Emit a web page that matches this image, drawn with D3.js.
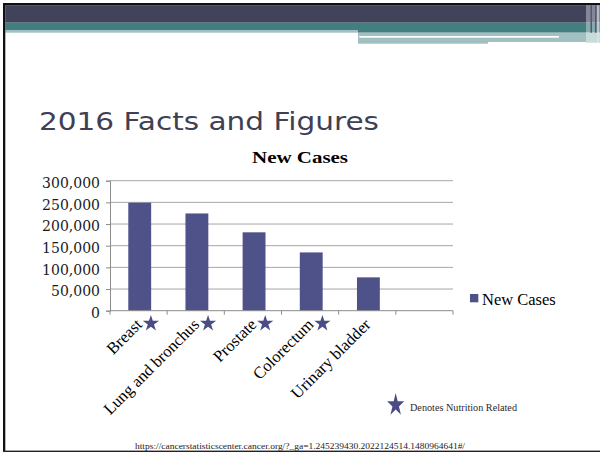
<!DOCTYPE html>
<html>
<head>
<meta charset="utf-8">
<script src="https://cdn.jsdelivr.net/npm/d3@7"></script>
<style>
  body { margin: 0; background: #fff; }
  svg { display: block; }
</style>
</head>
<body>
<svg id="viz" width="600" height="452"></svg>
<script>
const svg = d3.select("#viz");

// data
const categories = ["Breast", "Lung and bronchus", "Prostate", "Colorectum", "Urinary bladder", ""];
const newCases = [249260, 224390, 180890, 134490, 76960, null];
const nutritionRelated = [true, true, true, true, false, false];
const yTicks = [0, 50000, 100000, 150000, 200000, 250000, 300000];
const seriesName = "New Cases";

const barColor = "#4f5189";
const starColor = "#4b4c86";

// slide background
svg.append("rect").attr("width", 600).attr("height", 452).attr("fill", "#fff");

// header bands
const header = svg.append("g").attr("class", "header");
header.append("rect").attr("x", 3).attr("y", 3).attr("width", 597).attr("height", 2.5).attr("fill", "#111");
header.append("rect").attr("x", 5.3).attr("y", 5.3).attr("width", 581).attr("height", 17.4).attr("fill", "#41435a");
header.append("rect").attr("x", 5.3).attr("y", 22.7).attr("width", 353).attr("height", 7.3).attr("fill", "#437e81");
header.append("rect").attr("x", 5.3).attr("y", 30).attr("width", 353).attr("height", 2.7).attr("fill", "#a1c0c1");
header.append("rect").attr("x", 358).attr("y", 22.7).attr("width", 228).attr("height", 10).attr("fill", "#437e81");
header.append("rect").attr("x", 358).attr("y", 32.7).attr("width", 228).attr("height", 9.3).attr("fill", "#a1c0c1");
header.append("rect").attr("x", 358).attr("y", 42).attr("width", 130).attr("height", 1.7).attr("fill", "#a1c0c1");
header.append("rect").attr("x", 359.3).attr("y", 36).attr("width", 199.7).attr("height", 1.7).attr("fill", "#fff");
// right end stripes
header.append("rect").attr("x", 586).attr("y", 5.3).attr("width", 14).attr("height", 17.4).attr("fill", "#85869a");
header.append("rect").attr("x", 586).attr("y", 22.7).attr("width", 14).attr("height", 10).attr("fill", "#86abad");
header.append("rect").attr("x", 586).attr("y", 32.7).attr("width", 14).attr("height", 10).attr("fill", "#c8dbdb");
[590.5, 595].forEach(x => {
  header.append("rect").attr("x", x).attr("y", 5.3).attr("width", 1.5).attr("height", 27.4).attr("fill", "#56586d");
});
header.append("rect").attr("x", 597.5).attr("y", 5.3).attr("width", 1).attr("height", 37).attr("fill", "#e6eded");

// slide title
svg.append("text")
  .attr("x", 39)
  .attr("y", 130)
  .attr("textLength", 340)
  .attr("lengthAdjust", "spacingAndGlyphs")
  .style("font-family", "'DejaVu Sans', sans-serif")
  .style("font-size", "25px")
  .attr("fill", "#3f4053")
  .text("2016 Facts and Figures");

// chart title
svg.append("text")
  .attr("x", 300)
  .attr("y", 163.3)
  .attr("text-anchor", "middle")
  .attr("textLength", 96)
  .attr("lengthAdjust", "spacingAndGlyphs")
  .style("font-family", "'Liberation Serif', serif")
  .style("font-weight", "bold")
  .style("font-size", "17px")
  .attr("fill", "#000")
  .text(seriesName);

// scales
const x = d3.scaleBand()
  .domain(categories)
  .range([110, 453])
  .padding(0);

const y = d3.scaleLinear()
  .domain([0, 300000])
  .range([310.7, 180.7]);

const bw = x.bandwidth();

// gridlines
svg.append("g")
  .attr("class", "grid")
  .selectAll("line")
  .data(yTicks.filter(d => d > 0))
  .enter().append("line")
  .attr("x1", 110)
  .attr("x2", 453)
  .attr("y1", d => y(d))
  .attr("y2", d => y(d))
  .attr("stroke", "#a6a6a6")
  .attr("stroke-width", 1);

// bars
svg.append("g")
  .attr("class", "bars")
  .selectAll("rect")
  .data(categories.map((c, i) => ({ c, v: newCases[i] })).filter(d => d.v != null))
  .enter().append("rect")
  .attr("x", d => x(d.c) + bw * 0.32)
  .attr("width", bw * 0.4)
  .attr("y", d => y(d.v))
  .attr("height", d => y(0) - y(d.v))
  .attr("fill", barColor);

// y axis
const yAxis = svg.append("g")
  .attr("transform", "translate(110,0)")
  .call(d3.axisLeft(y).tickValues(yTicks).tickSize(4).tickPadding(6).tickFormat(d3.format(",")));
yAxis.select(".domain").attr("stroke", "#8c8c8c");
yAxis.selectAll(".tick line").attr("stroke", "#8c8c8c");
yAxis.selectAll(".tick text")
  .attr("dy", "0.48em")
  .attr("fill", "#1a1a1a")
  .style("font-family", "'DejaVu Serif', serif")
  .style("font-size", "14px");

// x axis line + boundary ticks
svg.append("line")
  .attr("x1", 110).attr("x2", 453)
  .attr("y1", y(0)).attr("y2", y(0))
  .attr("stroke", "#8c8c8c");
svg.append("g")
  .attr("class", "xticks")
  .selectAll("line")
  .data(categories.map(c => x(c)).concat([x.range()[1]]))
  .enter().append("line")
  .attr("x1", d => d).attr("x2", d => d)
  .attr("y1", y(0)).attr("y2", y(0) + 4)
  .attr("stroke", "#8c8c8c");

// x labels, rotated
svg.append("g")
  .attr("class", "xlabels")
  .selectAll("text")
  .data(categories)
  .enter().append("text")
  .attr("transform", d => `translate(${x(d) + bw / 2 + 4.5},${325.5}) rotate(-45)`)
  .attr("text-anchor", "end")
  .style("font-family", "'Liberation Serif', serif")
  .style("font-size", "16.5px")
  .attr("fill", "#000")
  .text(d => d);

// stars for nutrition related
const star = d3.symbol().type(d3.symbolStar).size(82);
svg.append("g")
  .attr("class", "stars")
  .selectAll("path")
  .data(categories.filter((c, i) => nutritionRelated[i]))
  .enter().append("path")
  .attr("d", star)
  .attr("transform", d => `translate(${x(d) + bw / 2 + 12.3},323.5)`)
  .attr("fill", starColor);

// legend
const legend = svg.append("g").attr("class", "legend");
legend.append("rect")
  .attr("x", 470).attr("y", 294)
  .attr("width", 8.3).attr("height", 8.3)
  .attr("fill", barColor);
legend.append("text")
  .attr("x", 482)
  .attr("y", 305)
  .style("font-family", "'Liberation Serif', serif")
  .style("font-size", "16.5px")
  .attr("fill", "#000")
  .text(seriesName);

// footnote
svg.append("path")
  .attr("d", d3.symbol().type(d3.symbolStar).size(90))
  .attr("transform", "translate(395.7,405) scale(1,1.35)")
  .attr("fill", starColor);
svg.append("text")
  .attr("x", 410)
  .attr("y", 411)
  .attr("textLength", 107)
  .attr("lengthAdjust", "spacingAndGlyphs")
  .style("font-family", "'Liberation Serif', serif")
  .style("font-size", "10.5px")
  .attr("fill", "#2a2a2a")
  .text("Denotes Nutrition Related");

// source url
svg.append("text")
  .attr("x", 135)
  .attr("y", 449)
  .attr("textLength", 330)
  .attr("lengthAdjust", "spacingAndGlyphs")
  .style("font-family", "'Liberation Serif', serif")
  .style("font-size", "8.5px")
  .attr("fill", "#222")
  .text("https://cancerstatisticscenter.cancer.org/?_ga=1.245239430.2022124514.1480964641#/");

// frame lines
svg.append("rect").attr("x", 3).attr("y", 3).attr("width", 2.3).attr("height", 449).attr("fill", "#111");
svg.append("rect").attr("x", 3).attr("y", 450.6).attr("width", 597).attr("height", 1.4).attr("fill", "#222");
</script>
</body>
</html>
